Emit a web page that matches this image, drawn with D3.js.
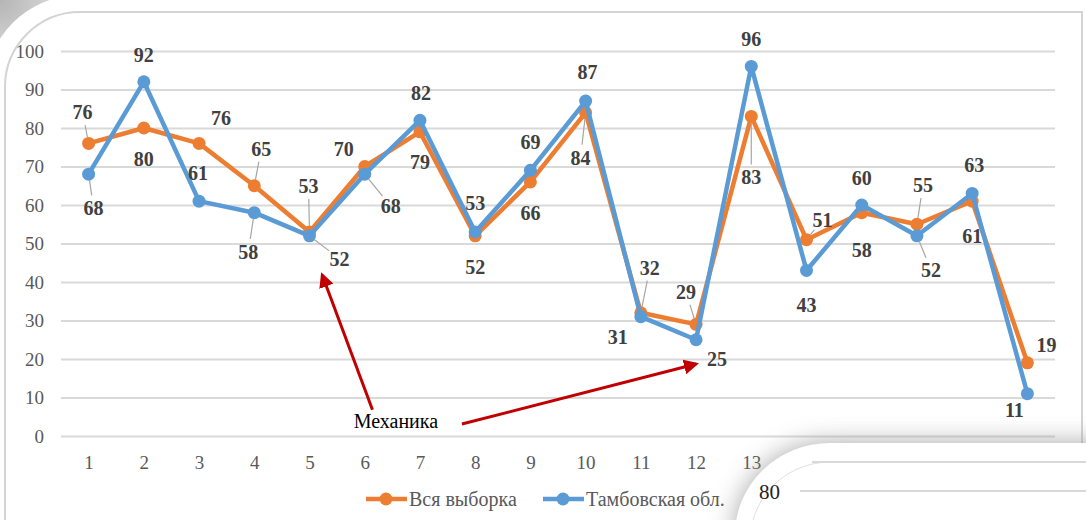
<!DOCTYPE html>
<html>
<head>
<meta charset="utf-8">
<script src="https://cdn.jsdelivr.net/npm/d3@7/dist/d3.min.js"></script>
<style>
  body{margin:0;background:#fff;overflow:hidden}
  svg{display:block}
  text{font-family:"Liberation Serif",serif}
</style>
</head>
<body>
<svg id="canvas" width="1086" height="520"></svg>
<script>
// data
const categories=[1,2,3,4,5,6,7,8,9,10,11,12,13,14,15,16,17,18]
const seriesNames=["Вся выборка","Тамбовская обл."]
const allSample=[76,80,76,65,53,70,79,52,66,84,32,29,83,51,58,55,61,19]
const tambov=[68,92,61,58,52,68,82,53,69,87,31,25,96,43,60,52,63,11]
const yTicks=[0,10,20,30,40,50,60,70,80,90,100]
const noteText="Механика"

// label layout (dx, dy, leader) per point
const orangeLabelPos=[[-6,-31,1],[0,31,0],[22,-25,0],[7,-37,1],[-1,-46,1],[-21,-18,0],[0,30,0],[0,31,0],[0,31,0],[-5,45,1],[9,-45,1],[-10,-32,1],[0,61,1],[16,-20,1],[0,37,0],[6,-39,1],[0,35,0],[19,-18,0]]
const blueLabelPos=[[5,34,1],[0,-27,0],[-1,-28,0],[-6,39,1],[30,23,1],[26,32,1],[1,-27,0],[0,-29,0],[0,-28,0],[2,-29,0],[-23,20,0],[21,19,0],[0,-27,0],[0,35,0],[0,-27,0],[14,34,1],[2,-28,0],[-13,16,0]]

const colors={orange:"#ED7D31",blue:"#5B9BD5"}
const serif="Liberation Serif, serif"
const canvas=d3.select("#canvas")
const defs=canvas.append("defs")

// page corner shading + frame
const cornerGrad=defs.append("radialGradient").attr("id","cornerGrad").attr("cx","0").attr("cy","0").attr("r","1")
cornerGrad.append("stop").attr("offset","0").attr("stop-color","#b5b5b5")
cornerGrad.append("stop").attr("offset","1").attr("stop-color","#e3e3e3")
canvas.append("rect").attr("x",0).attr("y",0).attr("width",75).attr("height",75).attr("fill","url(#cornerGrad)")
canvas.append("rect").attr("x",-15).attr("y",-5).attr("width",1200).attr("height",700).attr("rx",95).attr("fill","#fff")
canvas.append("path")
    .attr("d","M5,520 L5,87 A75,75 0 0 1 80,12 L1082,12 L1082,445")
    .attr("fill","none").attr("stroke","#d4d4d4").attr("stroke-width",2)

const x=d3.scalePoint().domain(categories).range([61,1055]).padding(0.5)
const y=d3.scaleLinear().domain([0,100]).range([436,51])
// fractional index -> x, for annotation placement
const xi=d3.scaleLinear().domain([1,18]).range([x(1),x(18)])

// grid + axes
const yAxis=d3.axisLeft(y).tickValues(yTicks).tickSize(-(1055-61)).tickPadding(17)
const gy=canvas.append("g").attr("transform","translate(61,0)").call(yAxis)
    .attr("font-family",serif).attr("font-size",19)
gy.select(".domain").remove()
gy.selectAll(".tick line").attr("stroke","#d9d9d9").attr("stroke-width",2)
gy.selectAll(".tick text").attr("fill","#595959")

const xAxis=d3.axisBottom(x).tickSize(0).tickPadding(20)
const gx=canvas.append("g").attr("transform","translate(0,436)").call(xAxis)
    .attr("font-family",serif).attr("font-size",19)
gx.select(".domain").remove()
gx.selectAll(".tick text").attr("fill","#595959")

// series
const series=[
    {name:seriesNames[0],values:allSample,color:colors.orange,labels:orangeLabelPos},
    {name:seriesNames[1],values:tambov,color:colors.blue,labels:blueLabelPos}
]
const line=d3.line().x((d,i)=>x(categories[i])).y((d)=>y(d))

series.forEach((s)=>{
    canvas.append("path").datum(s.values)
        .attr("d",line).attr("fill","none")
        .attr("stroke",s.color).attr("stroke-width",4.5).attr("stroke-linejoin","round")
    canvas.append("g").selectAll("circle").data(s.values).enter().append("circle")
        .attr("cx",(d,i)=>x(categories[i])).attr("cy",(d)=>y(d)).attr("r",6.5).attr("fill",s.color)
})

// data labels with leader lines
series.forEach((s)=>{
    s.values.forEach((v,i)=>{
        const px=x(categories[i]),py=y(v)
        const [dx,dy,leader]=s.labels[i]
        if(leader){
            const len=Math.sqrt(dx*dx+dy*dy)
            const ux=dx/len,uy=dy/len
            canvas.append("line")
                .attr("x1",px+ux*6).attr("y1",py+uy*6)
                .attr("x2",px+dx-ux*13).attr("y2",py+dy-uy*13)
                .attr("stroke","#a6a6a6").attr("stroke-width",1.2)
        }
        canvas.append("text")
            .attr("x",px+dx).attr("y",py+dy)
            .attr("text-anchor","middle").attr("dominant-baseline","central")
            .attr("font-family",serif)
            .attr("fill","#404040").style("font-size","20px").style("font-weight","bold")
            .text(v)
    })
})

// annotation
const marker=defs.append("marker").attr("id","arrow").attr("viewBox","0 0 10 10")
    .attr("refX",8).attr("refY",5).attr("markerWidth",5).attr("markerHeight",5).attr("orient","auto")
marker.append("path").attr("d","M0,0 L10,5 L0,10 Z").attr("fill","#C00000")
const arrows=[[6.14,6.8,5.23,41.8],[7.76,3.1,12.0,18.7]]
arrows.forEach((a)=>{
    canvas.append("line")
        .attr("x1",xi(a[0])).attr("y1",y(a[1])).attr("x2",xi(a[2])).attr("y2",y(a[3]))
        .attr("stroke","#C00000").attr("stroke-width",3).attr("marker-end","url(#arrow)")
})
canvas.append("text").attr("x",xi(5.8)).attr("y",y(2.2)).attr("font-family",serif)
    .attr("fill","#000").style("font-size","20px").text(noteText)

// legend
const legend=canvas.append("g")
const legendItems=[{name:seriesNames[0],color:colors.orange,x:366},{name:seriesNames[1],color:colors.blue,x:543}]
legendItems.forEach((d)=>{
    legend.append("line").attr("x1",d.x).attr("x2",d.x+41).attr("y1",499).attr("y2",499)
        .attr("stroke",d.color).attr("stroke-width",4.5)
    legend.append("circle").attr("cx",d.x+20).attr("cy",499).attr("r",6.5).attr("fill",d.color)
    legend.append("text").attr("x",d.x+43).attr("y",506).attr("fill","#595959").attr("font-family",serif)
        .style("font-size","20px").text(d.name)
})

// next slide card overlapping at bottom right
const shadow=defs.append("filter").attr("id","shadow").attr("x","-30%").attr("y","-30%").attr("width","160%").attr("height","160%")
shadow.append("feGaussianBlur").attr("stdDeviation",13)
const cardPath="M735,560 L735,535 A95,92 0 0 1 830,443 L1200,443 L1200,560 Z"
canvas.append("path").attr("d",cardPath).attr("fill","#8a8a8a").attr("opacity",0.75).attr("filter","url(#shadow)")
canvas.append("path").attr("d",cardPath).attr("fill","#fff")
canvas.append("path").attr("d","M752,560 A80,80 0 0 1 830,462")
    .attr("fill","none").attr("stroke","#e0e0e0").attr("stroke-width",1)
canvas.append("line").attr("x1",812).attr("x2",1086).attr("y1",462).attr("y2",462).attr("stroke","#d9d9d9").attr("stroke-width",2)
canvas.append("line").attr("x1",800).attr("x2",1086).attr("y1",491).attr("y2",491).attr("stroke","#d9d9d9").attr("stroke-width",2)
canvas.append("text").attr("x",759).attr("y",499).attr("fill","#222").attr("font-family",serif).style("font-size","21px").text("80")
</script>
</body>
</html>
